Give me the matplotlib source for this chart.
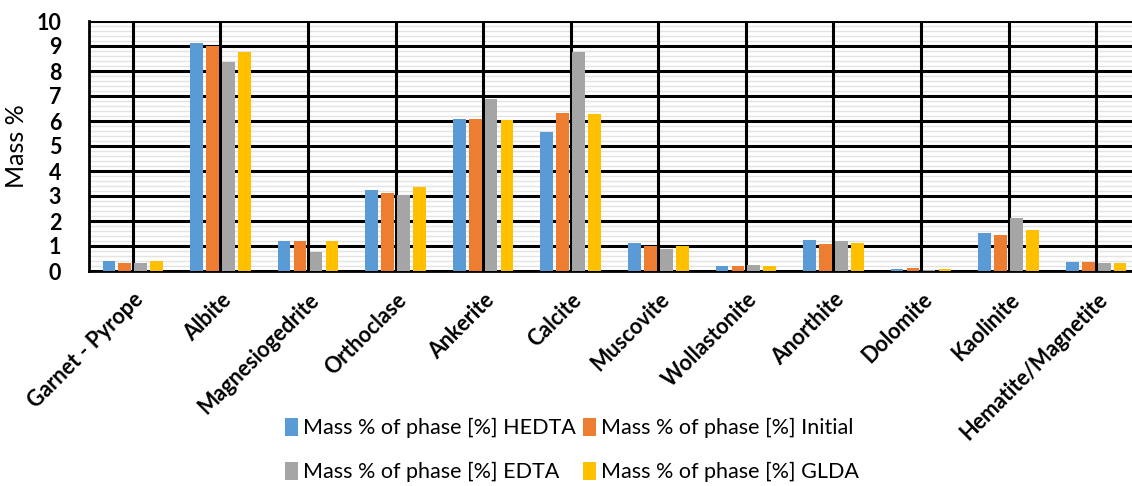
import numpy as np
import matplotlib
matplotlib.use("Agg")
import matplotlib.pyplot as plt
from matplotlib.ticker import MultipleLocator

minerals = ["Garnet - Pyrope", "Albite", "Magnesiogedrite", "Orthoclase", "Ankerite",
            "Calcite", "Muscovite", "Wollastonite", "Anorthite", "Dolomite",
            "Kaolinite", "Hematite/Magnetite"]

hedta = [0.38, 9.10, 1.21, 3.23, 6.08, 5.55, 1.11, 0.20, 1.24, 0.08, 1.53, 0.35]
initial = [0.33, 9.00, 1.19, 3.12, 6.08, 6.32, 1.00, 0.21, 1.07, 0.12, 1.45, 0.36]
edta = [0.32, 8.35, 0.77, 3.03, 6.89, 8.76, 0.89, 0.24, 1.20, 0.05, 2.11, 0.31]
glda = [0.38, 8.75, 1.19, 3.36, 6.04, 6.27, 1.00, 0.20, 1.11, 0.08, 1.64, 0.32]

series = [
    ("Mass % of phase [%] HEDTA", hedta, "#5b9bd5"),
    ("Mass % of phase [%] Initial", initial, "#ed7d31"),
    ("Mass % of phase [%] EDTA", edta, "#a5a5a5"),
    ("Mass % of phase [%] GLDA", glda, "#ffc000"),
]

plt.rcParams["font.family"] = ["Lato", "DejaVu Sans"]

fig = plt.figure(figsize=(11.32, 4.86), dpi=100)
ax = fig.add_axes([89 / 1132, 1 - 271 / 486, 1051 / 1132, 250 / 486])

x = np.arange(len(minerals))
width = 0.145
pitch = 0.182
for i, (name, vals, col) in enumerate(series):
    ax.bar(x + (i - 1.5) * pitch, vals, width, color=col, label=name, zorder=3)

ax.set_xlim(-0.5, len(minerals) - 0.5)
ax.set_ylim(0, 10)
ax.xaxis.set_major_locator(MultipleLocator(0.5))

# faint lines every 0.2 under the black unit / half-category grid
minor = [v for v in np.arange(0.2, 10, 0.2) if abs(v - round(v)) > 1e-6]
ax.hlines(minor, -0.5, len(minerals) - 0.5, color="#e3e3e3", linewidth=1, zorder=0.2)
ax.grid(which="major", color="black", linewidth=2.2)
ax.set_axisbelow(True)

for s in ["top", "right"]:
    ax.spines[s].set_visible(False)
ax.spines["left"].set_linewidth(2)
ax.spines["bottom"].set_linewidth(2)

ax.tick_params(axis="both", which="both", length=0)
ax.set_yticks(range(11))
ax.set_yticklabels([str(v) for v in range(11)], fontsize=15.5, fontweight="bold")
ax.set_xticks(x)
ax.set_xticklabels(minerals, rotation=45, ha="right", rotation_mode="anchor",
                   fontsize=15.5, fontweight="bold")
ax.tick_params(axis="x", pad=13)
ax.tick_params(axis="y", pad=20)
ax.set_ylabel("Mass %", fontsize=18, labelpad=6)

handles, labels = ax.get_legend_handles_labels()
order = [0, 2, 1, 3]
fig.legend([handles[k] for k in order], [labels[k] for k in order], ncol=2, loc="center",
           bbox_to_anchor=(572 / 1132, 1 - 450 / 486),
           frameon=False, fontsize=15.5, handlelength=0.6, handleheight=0.9,
           handletextpad=0.25, columnspacing=0.3, labelspacing=1.1,
           borderpad=0.2)

fig.savefig("out.png", dpi=100)
